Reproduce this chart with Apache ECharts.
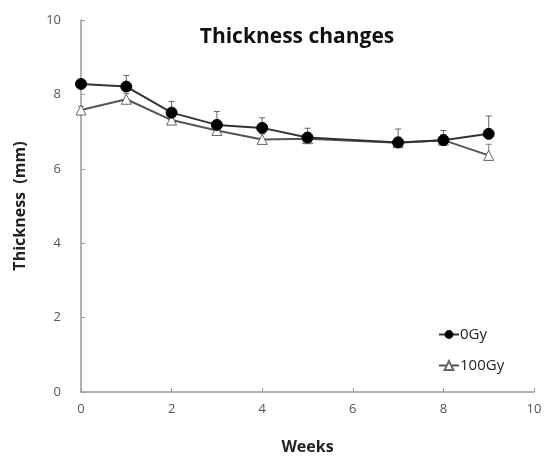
<!DOCTYPE html>
<html><head><meta charset="utf-8">
<script src="https://cdn.jsdelivr.net/npm/echarts@6/dist/echarts.min.js"></script>
<style>html,body{margin:0;padding:0;background:#fff}#c{width:547px;height:469px}</style>
</head><body><div id="c"></div>
<script>
const weeks = [0, 1, 2, 3, 4, 5, 7, 8, 9];
const gy0 = [8.28, 8.21, 7.51, 7.18, 7.10, 6.84, 6.71, 6.77, 6.94];
const gy0Err = [0.08, 0.30, 0.30, 0.36, 0.27, 0.25, 0.36, 0.26, 0.48];
const gy100 = [7.58, 7.87, 7.31, 7.03, 6.79, 6.81, 6.70, 6.77, 6.36];
const gy100Err = [0.10, 0.15, 0.15, 0.15, 0.15, 0.15, 0.15, 0.15, 0.30];
const xTicks = [0, 2, 4, 6, 8, 10];
const yTicks = [0, 2, 4, 6, 8, 10];
const names = ['0Gy', '100Gy'];

const font = '"Open Sans", sans-serif';
function errSeries(vals, errs, color) {
  return {
    type: 'custom',
    silent: true,
    z: 1,
    data: weeks.map((w, i) => [w, vals[i], vals[i] + errs[i]]),
    renderItem: function (params, api) {
      const p0 = api.coord([api.value(0), api.value(1)]);
      const p1 = api.coord([api.value(0), api.value(2)]);
      return {
        type: 'group',
        children: [
          { type: 'line', shape: { x1: p0[0], y1: p0[1], x2: p1[0], y2: p1[1] }, style: { stroke: color, lineWidth: 1 } },
          { type: 'line', shape: { x1: p1[0] - 3, y1: p1[1], x2: p1[0] + 3, y2: p1[1] }, style: { stroke: color, lineWidth: 1 } }
        ]
      };
    }
  };
}
const chart = echarts.init(document.getElementById('c'));
chart.setOption({
  animation: false,
  backgroundColor: '#fff',
  title: {
    text: 'Thickness changes', left: 292, top: 22, textAlign: 'center',
    textStyle: { fontFamily: font, fontWeight: 'bold', fontSize: 21, color: '#111' }
  },
  legend: {
    orient: 'vertical', left: 433, top: 322, itemGap: 16, itemWidth: 20, itemHeight: 11,
    data: names,
    textStyle: { fontFamily: font, fontSize: 15, color: '#222', padding: [0, 0, 0, -4] }
  },
  grid: { left: 81, right: 13, top: 20, bottom: 77 },
  xAxis: {
    type: 'value', min: xTicks[0], max: xTicks[xTicks.length - 1], interval: 2,
    name: 'Weeks', nameLocation: 'middle', nameGap: 47,
    nameTextStyle: { fontFamily: font, fontWeight: 'bold', fontSize: 16, color: '#222' },
    axisLine: { lineStyle: { color: '#999', width: 1.5 } },
    axisTick: { inside: true, length: 4, lineStyle: { color: '#999' } },
    axisLabel: { fontFamily: font, fontSize: 13, color: '#555', margin: 11 },
    splitLine: { show: false }
  },
  yAxis: {
    type: 'value', min: yTicks[0], max: yTicks[yTicks.length - 1], interval: 2,
    name: 'Thickness  (mm)', nameLocation: 'middle', nameGap: 53,
    nameTextStyle: { fontFamily: font, fontWeight: 'bold', fontSize: 16, color: '#222' },
    axisLine: { show: true, lineStyle: { color: '#999', width: 1.5 } },
    axisTick: { show: true, inside: true, length: 4, lineStyle: { color: '#999' } },
    axisLabel: { fontFamily: font, fontSize: 13, color: '#555', margin: 20 },
    splitLine: { show: false }
  },
  series: [
    errSeries(gy100, gy100Err, '#777'),
    errSeries(gy0, gy0Err, '#666'),
    {
      name: names[1], type: 'line', z: 3,
      data: weeks.map((w, i) => [w, gy100[i]]),
      symbol: 'triangle', symbolSize: 10,
      lineStyle: { color: '#555', width: 2 },
      itemStyle: { color: '#fff', borderColor: '#666', borderWidth: 1 }
    },
    {
      name: names[0], type: 'line', z: 4,
      data: weeks.map((w, i) => [w, gy0[i]]),
      symbol: 'circle', symbolSize: 11,
      lineStyle: { color: '#333', width: 2 },
      itemStyle: { color: '#000', borderColor: '#000' }
    }
  ]
});
</script></body></html>
